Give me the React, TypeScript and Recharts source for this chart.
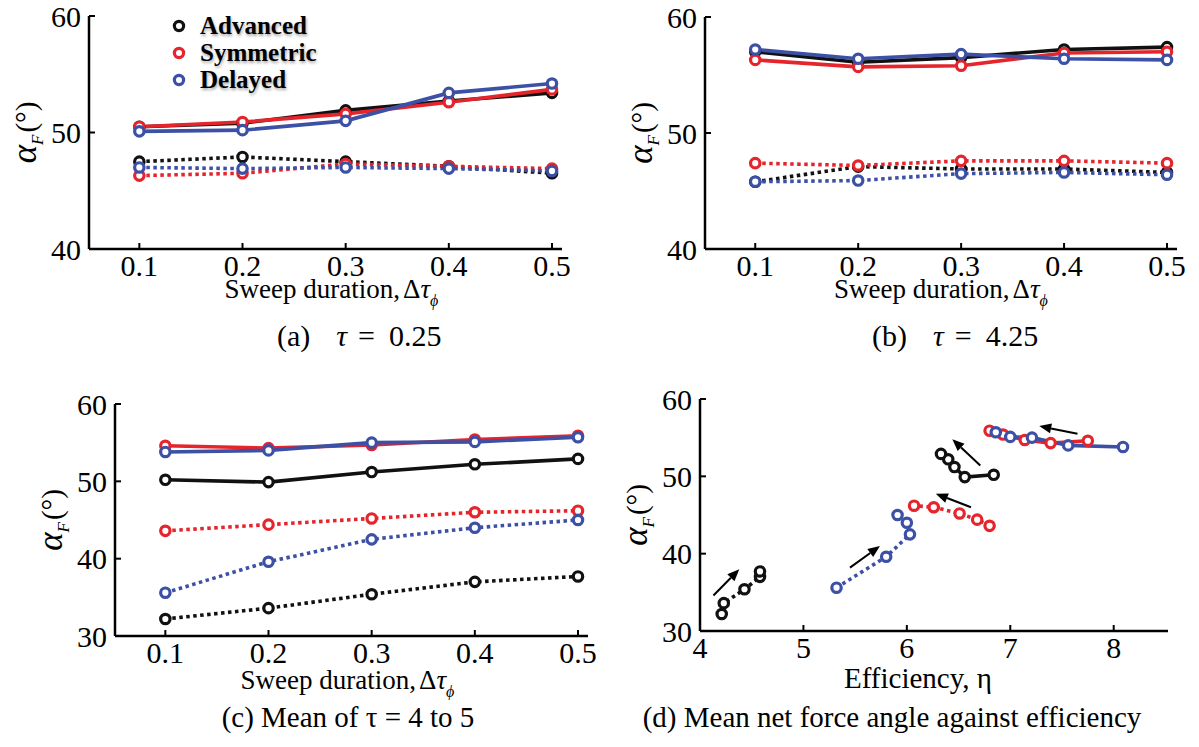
import React from "react";
import { ComposedChart, Line, XAxis, YAxis, ReferenceLine } from "recharts";

// sweep durations shared by panels (a)-(c)
const sweep = [0.1, 0.2, 0.3, 0.4, 0.5];
const sweepTicks = [0.1, 0.2, 0.3, 0.4, 0.5];

// (a) tau = 0.25
const advSolidA = [50.5, 50.8, 51.9, 52.7, 53.4];
const symSolidA = [50.5, 50.9, 51.6, 52.6, 53.7];
const delSolidA = [50.1, 50.2, 51.0, 53.4, 54.2];
const advDotA = [47.5, 47.9, 47.5, 47.1, 46.5];
const symDotA = [46.3, 46.5, 47.3, 47.1, 46.9];
const delDotA = [47.0, 46.9, 47.0, 46.9, 46.7];

// (b) tau = 4.25
const advSolidB = [57.0, 56.1, 56.5, 57.2, 57.4];
const symSolidB = [56.3, 55.7, 55.8, 56.9, 57.0];
const delSolidB = [57.2, 56.4, 56.8, 56.4, 56.3];
const advDotB = [45.8, 47.1, 46.9, 46.9, 46.6];
const symDotB = [47.4, 47.2, 47.6, 47.6, 47.4];
const delDotB = [45.8, 45.9, 46.5, 46.6, 46.4];

// (c) mean over tau = 4..5
const advSolidC = [50.2, 49.9, 51.2, 52.2, 52.9];
const symSolidC = [54.6, 54.3, 54.7, 55.4, 55.9];
const delSolidC = [53.8, 54.0, 55.0, 55.1, 55.7];
const advDotC = [32.2, 33.6, 35.4, 37.0, 37.7];
const symDotC = [43.6, 44.4, 45.2, 46.0, 46.2];
const delDotC = [35.6, 39.6, 42.5, 44.0, 45.0];

// (d) efficiency for each of the (c) points, same sweep order
const etaAdvSolid = [6.84, 6.56, 6.46, 6.40, 6.33];
const etaSymSolid = [7.75, 7.39, 7.14, 6.93, 6.80];
const etaDelSolid = [8.09, 7.56, 7.21, 7.00, 6.86];
const etaAdvDot = [4.21, 4.23, 4.43, 4.58, 4.58];
const etaSymDot = [6.80, 6.68, 6.51, 6.26, 6.07];
const etaDelDot = [5.32, 5.80, 6.03, 6.00, 5.91];

// trend arrows in (d): [x0, y0, x1, y1] in data units
const arrows = [
  [4.13, 34.6, 4.38, 38.0],
  [5.45, 38.2, 5.74, 41.0],
  [6.71, 51.4, 6.44, 54.8],
  [6.62, 46.0, 6.28, 47.75],
  [7.65, 55.5, 7.28, 56.5],
];

const etaTicks = [4, 5, 6, 7, 8];
const yTicksHigh = [40, 50, 60];
const yTicksLow = [30, 40, 50, 60];

const BLACK = "#111111";
const RED = "#e5242b";
const BLUE = "#3c50a6";
const FONT = '"Liberation Serif", "Times New Roman", serif';
const TICK_FONT = 30;

const sweepRows = (
  adv: number[], sym: number[], del: number[],
  advD: number[], symD: number[], delD: number[]
) =>
  sweep.map((dt, i) => ({
    dt,
    advS: adv[i], symS: sym[i], delS: del[i],
    advD: advD[i], symD: symD[i], delD: delD[i],
  }));

const dataA = sweepRows(advSolidA, symSolidA, delSolidA, advDotA, symDotA, delDotA);
const dataB = sweepRows(advSolidB, symSolidB, delSolidB, advDotB, symDotB, delDotB);
const dataC = sweepRows(advSolidC, symSolidC, delSolidC, advDotC, symDotC, delDotC);

const pairs = (xs: number[], ys: number[]) => xs.map((x, i) => ({ eta: x, y: ys[i] }));

// dotted series first so the solid ones sit on top
const sweepSeries = [
  { key: "advD", color: BLACK, dotted: true },
  { key: "symD", color: RED, dotted: true },
  { key: "delD", color: BLUE, dotted: true },
  { key: "advS", color: BLACK, dotted: false },
  { key: "symS", color: RED, dotted: false },
  { key: "delS", color: BLUE, dotted: false },
];

const etaSeries = [
  { key: "advD", color: BLACK, dotted: true, data: pairs(etaAdvDot, advDotC) },
  { key: "symD", color: RED, dotted: true, data: pairs(etaSymDot, symDotC) },
  { key: "delD", color: BLUE, dotted: true, data: pairs(etaDelDot, delDotC) },
  { key: "advS", color: BLACK, dotted: false, data: pairs(etaAdvSolid, advSolidC) },
  { key: "symS", color: RED, dotted: false, data: pairs(etaSymSolid, symSolidC) },
  { key: "delS", color: BLUE, dotted: false, data: pairs(etaDelSolid, delSolidC) },
];

const ring = (color: string) => (p: any) => (
  <circle key={`dot-${p.index}`} cx={p.cx} cy={p.cy} r={4.7} fill="#fff" stroke={color} strokeWidth={3.2} />
);

const Y_GAP = 8;
function YTick(props: any) {
  const { x, y, payload } = props;
  const ax = x + Y_GAP;
  return (
    <g>
      <line x1={ax} x2={ax + 6} y1={y} y2={y} stroke="#000" strokeWidth={2} />
      <text x={x} y={y} dy="0.35em" textAnchor="end" fontFamily={FONT} fontSize={TICK_FONT} fill="#000">
        {payload.value}
      </text>
    </g>
  );
}

const xTick = (fmt: (v: number) => string) => (props: any) => {
  const { x, y, payload } = props;
  return (
    <g key={`t-${payload.value}`}>
      <line x1={x} x2={x} y1={y} y2={y - 6} stroke="#000" strokeWidth={2} />
      <text x={x} y={y + 27} textAnchor="middle" fontFamily={FONT} fontSize={TICK_FONT} fill="#000">
        {fmt(payload.value)}
      </text>
    </g>
  );
};

// rotated alpha_F (°) title
const alphaLabel = (props: any) => {
  const { x, y, width, height } = props.viewBox;
  const bx = x + width - 53;
  const cy = y + height / 2;
  return (
    <text x={bx} y={cy} textAnchor="middle" transform={`rotate(-90, ${bx}, ${cy})`} fontFamily={FONT} fill="#000">
      <tspan fontStyle="italic" fontSize={35}>α</tspan>
      <tspan fontStyle="italic" fontSize={17} dy={7}>F</tspan>
      <tspan fontSize={29} dy={-7} dx={2}>(°)</tspan>
    </text>
  );
};

const sweepLabel = (drop: number, shift: number) => (props: any) => {
  const { x, y, width } = props.viewBox;
  return (
    <text x={x + width / 2 + shift} y={y + drop} textAnchor="middle" fontFamily={FONT} fontSize={27} fill="#000">
      <tspan>Sweep duration,</tspan>
      <tspan dx={3}>Δ</tspan>
      <tspan fontStyle="italic">τ</tspan>
      <tspan fontStyle="italic" fontSize={16} dy={8}>ϕ</tspan>
    </text>
  );
};

const etaLabel = (props: any) => {
  const { x, y, width } = props.viewBox;
  return (
    <text x={x + width / 2 - 16} y={y + 57} textAnchor="middle" fontFamily={FONT} fontSize={29} fill="#000">
      Efficiency, η
    </text>
  );
};

const axisLine = { stroke: "#000", strokeWidth: 2.5 };

interface PanelBox {
  left: number; top: number; width: number; height: number;
  margin: { top: number; right: number; bottom: number; left: number };
  yWidth: number; xHeight: number;
}

function SweepPanel({ box, data, yDomain, yTicks, labelDrop, labelShift }: {
  box: PanelBox; data: any[]; yDomain: [number, number]; yTicks: number[];
  labelDrop: number; labelShift: number;
}) {
  return (
    <div style={{ position: "absolute", left: box.left, top: box.top }}>
      <ComposedChart width={box.width} height={box.height} data={data} margin={box.margin}>
        <XAxis
          dataKey="dt" type="number" domain={[0.0512, 0.5097]} allowDataOverflow
          ticks={sweepTicks} height={box.xHeight} axisLine={axisLine}
          tickLine={false} tickSize={0} tickMargin={0}
          tick={xTick(v => v.toFixed(1))} interval={0}
          label={sweepLabel(labelDrop, labelShift)}
        />
        <YAxis
          type="number" domain={yDomain} ticks={yTicks} width={box.yWidth}
          axisLine={axisLine} tickLine={false} tickSize={0} tickMargin={Y_GAP}
          tick={<YTick />} interval={0} label={alphaLabel}
        />
        {sweepSeries.map(s => (
          <Line
            key={s.key} type="linear" dataKey={s.key} stroke={s.color} strokeWidth={3.6}
            strokeDasharray={s.dotted ? "3.5 3.5" : undefined}
            dot={ring(s.color)} activeDot={false} isAnimationActive={false}
          />
        ))}
      </ComposedChart>
    </div>
  );
}

const arrowShape = (p: any) => {
  const { x1, y1, x2, y2 } = p;
  const ang = Math.atan2(y2 - y1, x2 - x1);
  const len = 12, half = 5;
  const bx = x2 - len * Math.cos(ang), by = y2 - len * Math.sin(ang);
  const nx = -Math.sin(ang) * half, ny = Math.cos(ang) * half;
  return (
    <g>
      <line x1={x1} y1={y1} x2={bx} y2={by} stroke="#000" strokeWidth={2} />
      <polygon points={`${x2},${y2} ${bx + nx},${by + ny} ${bx - nx},${by - ny}`} fill="#000" />
    </g>
  );
};

function EtaPanel({ box }: { box: PanelBox }) {
  return (
    <div style={{ position: "absolute", left: box.left, top: box.top }}>
      <ComposedChart width={box.width} height={box.height} margin={box.margin}>
        <XAxis
          dataKey="eta" type="number" domain={[4, 8.525]} allowDataOverflow
          ticks={etaTicks} height={box.xHeight} axisLine={axisLine}
          tickLine={false} tickSize={0} tickMargin={0}
          tick={xTick(v => String(v))} interval={0} label={etaLabel}
        />
        <YAxis
          type="number" domain={[30, 60]} ticks={yTicksLow} width={box.yWidth}
          axisLine={axisLine} tickLine={false} tickSize={0} tickMargin={Y_GAP}
          tick={<YTick />} interval={0} label={alphaLabel}
        />
        {arrows.map((a, i) => (
          <ReferenceLine
            key={`arrow-${i}`}
            segment={[{ x: a[0], y: a[1] }, { x: a[2], y: a[3] }]}
            shape={arrowShape} ifOverflow="visible"
          />
        ))}
        {etaSeries.map(s => (
          <Line
            key={s.key} data={s.data} type="linear" dataKey="y" stroke={s.color} strokeWidth={3.6}
            strokeDasharray={s.dotted ? "3.5 3.5" : undefined}
            dot={ring(s.color)} activeDot={false} isAnimationActive={false}
          />
        ))}
      </ComposedChart>
    </div>
  );
}

const legendItems = [
  { name: "Advanced", color: BLACK },
  { name: "Symmetric", color: RED },
  { name: "Delayed", color: BLUE },
];

function Legend() {
  return (
    <div style={{ position: "absolute", left: 170, top: 12 }}>
      {legendItems.map(it => (
        <div key={it.name} style={{ display: "flex", alignItems: "center", height: 27 }}>
          <svg width={18} height={18} style={{ marginRight: 12 }}>
            <circle cx={9} cy={9} r={4.6} fill="#fff" stroke={it.color} strokeWidth={3.2} />
          </svg>
          <span style={{
            fontFamily: FONT, fontWeight: 700, fontSize: 25, color: "#000",
            textShadow: "1px 2px 3px rgba(0,0,0,0.35)", lineHeight: "27px",
          }}>{it.name}</span>
        </div>
      ))}
    </div>
  );
}

// "(x)  τ = v" captions with the wide math spacing
function TauCaption({ x, y, tag, value }: { x: number; y: number; tag: string; value: string }) {
  return (
    <text x={x} y={y} fontFamily={FONT} fontSize={30} fill="#000">
      <tspan>{tag}</tspan>
      <tspan dx={26} fontStyle="italic">τ</tspan>
      <tspan dx={11}>=</tspan>
      <tspan dx={14}>{value}</tspan>
    </text>
  );
}

function Captions() {
  const common = { fontFamily: FONT, fontSize: 29, fill: "#000", textAnchor: "middle" as const };
  return (
    <svg width={1199} height={747} style={{ position: "absolute", left: 0, top: 0, pointerEvents: "none" }}>
      <TauCaption x={277} y={346} tag="(a)" value="0.25" />
      <TauCaption x={872} y={346} tag="(b)" value="4.25" />
      <text x={348} y={727} {...common}>(c) Mean of τ = 4 to 5</text>
      <text x={892} y={727} {...common}>(d) Mean net force angle against efficiency</text>
    </svg>
  );
}

const boxA: PanelBox = { left: 0, top: 0, width: 600, height: 310, margin: { top: 16, right: 38, bottom: 0, left: 0 }, yWidth: 89, xHeight: 61 };
const boxB: PanelBox = { left: 600, top: 0, width: 599, height: 310, margin: { top: 17, right: 22, bottom: 0, left: 0 }, yWidth: 105, xHeight: 61 };
const boxC: PanelBox = { left: 0, top: 380, width: 600, height: 320, margin: { top: 24, right: 12, bottom: 0, left: 0 }, yWidth: 115, xHeight: 64 };
const boxD: PanelBox = { left: 600, top: 380, width: 599, height: 320, margin: { top: 19, right: 31, bottom: 0, left: 0 }, yWidth: 100, xHeight: 69 };

export default function App() {
  return (
    <div style={{ position: "absolute", left: 0, top: 0, width: 1199, height: 747, background: "#fff", overflow: "hidden", fontFamily: FONT }}>
      <SweepPanel box={boxA} data={dataA} yDomain={[40, 60]} yTicks={yTicksHigh} labelDrop={49} labelShift={6} />
      <SweepPanel box={boxB} data={dataB} yDomain={[40, 60]} yTicks={yTicksHigh} labelDrop={49} labelShift={0} />
      <SweepPanel box={boxC} data={dataC} yDomain={[30, 60]} yTicks={yTicksLow} labelDrop={53} labelShift={-4} />
      <EtaPanel box={boxD} />
      <Legend />
      <Captions />
    </div>
  );
}
